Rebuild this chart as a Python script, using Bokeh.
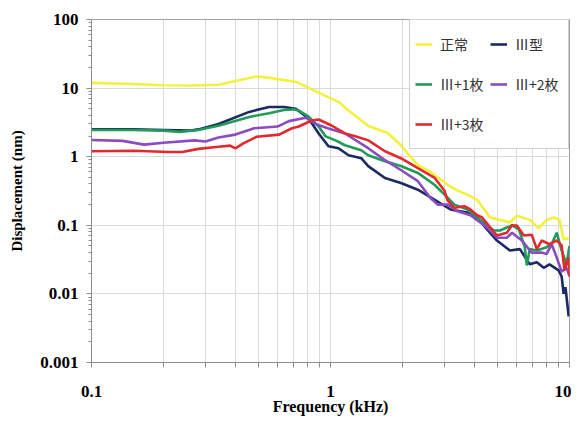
from bokeh.plotting import figure
from bokeh.models import FixedTicker, CustomJSTickFormatter, Legend, LegendItem
from bokeh.embed import file_html
from bokeh.resources import INLINE

# ---- data (frequency in kHz, displacement in nm) ----
f_normal = [0.1, 0.15, 0.2, 0.26, 0.34, 0.415, 0.49, 0.55, 0.72, 0.89, 1.08, 1.19, 1.44, 1.74, 1.97,
            2.32, 2.62, 3.09, 3.40, 3.74, 4.11, 4.65, 5.12, 5.63, 6.02, 6.82, 7.43, 8.02, 8.59, 9.09, 9.45, 10.0]
v_normal = [11.9, 11.5, 11.0, 10.9, 11.2, 13.0, 14.8, 14.2, 12.3, 8.6, 6.3, 4.7, 2.8, 2.2, 1.47,
            0.75, 0.6, 0.39, 0.32, 0.28, 0.235, 0.13, 0.12, 0.11, 0.138, 0.12, 0.09, 0.12, 0.13, 0.12, 0.062, 0.066]

f_type3 = [0.1, 0.15, 0.2, 0.26, 0.28, 0.34, 0.457, 0.553, 0.638, 0.716, 0.81, 0.892, 0.981, 1.08, 1.19,
           1.345, 1.438, 1.69, 1.97, 2.32, 2.73, 3.18, 3.74, 4.11, 4.52, 4.97, 5.63, 6.2, 6.82, 7.3, 7.8,
           8.25, 9.0, 9.27, 9.45, 9.62, 9.92]
v_type3 = [2.5, 2.5, 2.45, 2.4, 2.5, 3.0, 4.5, 5.3, 5.3, 5.0, 3.6, 2.18, 1.42, 1.33, 1.05,
           0.95, 0.73, 0.49, 0.414, 0.33, 0.235, 0.17, 0.153, 0.13, 0.087, 0.06, 0.043, 0.045, 0.027, 0.029, 0.024,
           0.027, 0.022, 0.018, 0.01, 0.0125, 0.0047]

f_plus1 = [0.1, 0.15, 0.2, 0.234, 0.28, 0.343, 0.457, 0.553, 0.638, 0.7, 0.737, 0.81, 0.892, 0.953, 1.05,
           1.15, 1.345, 1.438, 1.69, 1.97, 2.32, 2.73, 3.0, 3.30, 3.74, 4.52, 4.83, 5.12, 5.75, 6.14, 6.5,
           6.63, 6.82, 7.3, 8.02, 8.42, 8.84, 9.27, 9.72, 10.0]
v_plus1 = [2.45, 2.45, 2.4, 2.3, 2.45, 2.85, 3.8, 4.3, 4.8, 4.9, 4.7, 3.83, 2.76, 1.98, 1.73,
           1.47, 1.24, 1.05, 0.86, 0.73, 0.58, 0.387, 0.28, 0.2, 0.17, 0.10, 0.084, 0.084, 0.10, 0.087, 0.048,
           0.026, 0.045, 0.043, 0.048, 0.053, 0.078, 0.043, 0.027, 0.05]

f_plus2 = [0.1, 0.135, 0.166, 0.2, 0.27, 0.3, 0.34, 0.4, 0.48, 0.6, 0.67, 0.788, 0.866, 0.981, 1.15,
           1.438, 1.69, 1.97, 2.32, 2.62, 2.81, 3.09, 3.40, 3.85, 4.52, 4.97, 5.47, 5.75, 6.32, 6.95, 7.65,
           8.02, 8.42, 8.84, 9.27, 9.72, 10.0]
v_plus2 = [1.75, 1.7, 1.5, 1.6, 1.73, 1.67, 1.9, 2.1, 2.6, 2.75, 3.3, 3.7, 3.0, 2.58, 2.18,
           1.33, 0.89, 0.64, 0.44, 0.25, 0.2, 0.2, 0.16, 0.14, 0.093, 0.066, 0.066, 0.078, 0.06, 0.04, 0.04,
           0.038, 0.053, 0.034, 0.021, 0.024, 0.018]

f_plus3 = [0.1, 0.15, 0.21, 0.24, 0.28, 0.34, 0.38, 0.40, 0.43, 0.49, 0.61, 0.69, 0.737, 0.834, 0.892,
           1.01, 1.15, 1.27, 1.44, 1.69, 1.97, 2.32, 2.73, 3.0, 3.09, 3.30, 3.63, 3.85, 4.11, 4.31, 4.97,
           5.47, 5.75, 6.02, 6.44, 6.95, 7.3, 7.65, 8.25, 8.84, 9.27, 9.53, 9.92, 10.0]
v_plus3 = [1.2, 1.22, 1.17, 1.17, 1.3, 1.4, 1.45, 1.32, 1.55, 1.95, 2.1, 2.6, 2.76, 3.37, 3.48,
           2.85, 2.18, 1.98, 1.73, 1.2, 0.95, 0.68, 0.49, 0.318, 0.23, 0.18, 0.19, 0.17, 0.14, 0.13, 0.071,
           0.078, 0.10, 0.099, 0.071, 0.073, 0.045, 0.06, 0.053, 0.06, 0.051, 0.022, 0.034, 0.018]

series_names = ["正常", "Ⅲ型", "Ⅲ+1枚", "Ⅲ+2枚", "Ⅲ+3枚"]
series_f = [f_normal, f_type3, f_plus1, f_plus2, f_plus3]
series_v = [v_normal, v_type3, v_plus1, v_plus2, v_plus3]
colors = ["#f4f13c", "#1b2a63", "#1f9c58", "#8a4cc0", "#e02a2e"]
legend_order = [0, 2, 4, 1, 3]   # column-major fill -> rows: (正常, Ⅲ型), (Ⅲ+1枚, Ⅲ+2枚), (Ⅲ+3枚)

x_major = [0.1, 1, 10]
y_major = [0.001, 0.01, 0.1, 1, 10, 100]

p = figure(width=571, height=417, x_axis_type="log", y_axis_type="log",
           x_range=(0.1, 10), y_range=(0.001, 100),
           output_backend="svg", toolbar_location=None,
           min_border_left=91, min_border_right=2, min_border_top=19, min_border_bottom=51)
p.background_fill_color = "white"
p.border_fill_color = "white"
p.outline_line_color = "#a0a0a0"
p.outline_line_width = 1

x_minor = [m * d for d in [0.1, 1] for m in range(2, 10)]
y_minor = [m * d for d in [0.001, 0.01, 0.1, 1, 10] for m in range(2, 10)]
p.xaxis.ticker = FixedTicker(ticks=x_major, minor_ticks=x_minor)
p.yaxis.ticker = FixedTicker(ticks=y_major, minor_ticks=y_minor)
fmt = CustomJSTickFormatter(code="return Number(tick.toPrecision(3)).toString();")
p.xaxis.formatter = fmt
p.yaxis.formatter = fmt

for ax in (p.xaxis, p.yaxis):
    ax.axis_line_color = "#8c8c8c"
    ax.major_tick_line_color = "#8c8c8c"
    ax.minor_tick_line_color = "#8c8c8c"
    ax.major_tick_in = 0
    ax.minor_tick_in = 0
    ax.major_label_text_font = "Liberation Serif"
    ax.major_label_text_font_style = "bold"
    ax.major_label_text_font_size = "17px"
    ax.major_label_text_color = "black"
    ax.axis_label_text_font = "Liberation Serif"
    ax.axis_label_text_font_style = "bold"
    ax.axis_label_text_color = "black"

p.xaxis.major_tick_out = 5
p.xaxis.minor_tick_out = 5
p.xaxis.major_label_standoff = 18
p.xaxis.axis_label = "Frequency (kHz)"
p.xaxis.axis_label_text_font_size = "16px"
p.xaxis.axis_label_standoff = -2

p.yaxis.major_tick_out = 5
p.yaxis.minor_tick_out = 3
p.yaxis.major_label_standoff = 8
p.yaxis.axis_label = "Displacement (nm)"
p.yaxis.axis_label_text_font_size = "15px"
p.yaxis.axis_label_standoff = 12

p.xgrid.grid_line_color = "#dadada"
p.xgrid.minor_grid_line_color = "#dadada"
p.ygrid.grid_line_color = "#dadada"
p.ygrid.minor_grid_line_color = None

renderers = []
for fx, vy, c in zip(series_f, series_v, colors):
    renderers.append(p.line(fx, vy, line_color=c, line_width=2.6))

items = [LegendItem(label=series_names[i], renderers=[renderers[i]]) for i in legend_order]

legend = Legend(items=items, location="top_right", ncols=2,
                border_line_color="#a0a0a0", border_line_width=1,
                background_fill_color="white", background_fill_alpha=1,
                label_text_font="Noto Sans CJK JP", label_text_font_size="14px",
                label_text_color="#333333",
                glyph_width=17, glyph_height=38, label_height=38, label_width=48,
                label_standoff=8, spacing=2, padding=5, margin=0)
p.add_layout(legend, "center")

open("out.html", "w").write(file_html(p, INLINE))
